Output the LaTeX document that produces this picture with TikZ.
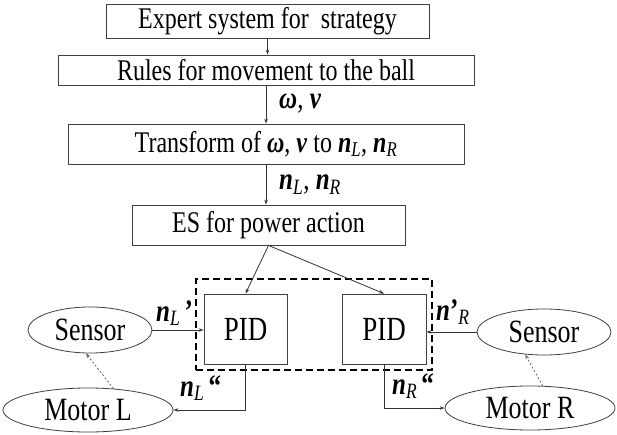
\documentclass[tikz,border=0pt]{standalone}
\usepackage{fontspec}
\usepackage{graphicx}
\setmainfont{Liberation Serif}
\usetikzlibrary{shapes.geometric,arrows.meta}
\newcommand\vtall[1]{\scalebox{1}[1.25]{#1}}
\begin{document}
\begin{tikzpicture}[x=1pt,y=-1pt,
  box/.style={draw=black!75,line width=0.8pt,inner sep=0pt,anchor=center,font=\fontsize{24}{28}\selectfont},
  pid/.style={draw=black!75,line width=0.8pt,inner sep=0pt,anchor=center,minimum width=83pt,minimum height=70pt,font=\fontsize{27}{30}\selectfont},
  ell/.style={ellipse,draw=black!75,line width=0.8pt,inner sep=0pt,anchor=center,font=\fontsize{26}{30}\selectfont},
  arr/.style={draw=black!80,line width=0.8pt,-{Stealth[length=5pt,width=3.5pt]}},
  dots/.style={draw=black!60,line width=0.8pt,dash pattern=on 2pt off 2pt,-{Stealth[length=5pt,width=3.5pt]}},
  lab/.style={anchor=west,inner sep=0pt,font=\fontsize{25}{28}\selectfont}
]
\useasboundingbox (0,0) rectangle (617,435);
\node[box,minimum width=323pt,minimum height=34pt] (b1) at (267.5,21) {\vtall{Expert system for\ \ strategy}};
\node[box,minimum width=416pt,minimum height=30pt] (b2) at (266,70) {\vtall{Rules for movement to the ball}};
\node[box,minimum width=396pt,minimum height=40pt] (b3) at (266,144) {\vtall{Transform of \textbf{\textit{ω}}, \textbf{\textit{v}} to \textbf{\textit{n}}\textsubscript{\textit{L}}, \textbf{\textit{n}}\textsubscript{\textit{R}}}};
\node[box,minimum width=273pt,minimum height=40pt] (b4) at (268.5,225) {\vtall{ES for power action}};
\node[draw=black,line width=1.8pt,dash pattern=on 7pt off 4pt,minimum width=236pt,minimum height=91pt,inner sep=0pt] (grp) at (314,324.5) {};
\node[pid] (pidL) at (245.5,329) {\vtall{PID}};
\node[pid,minimum width=84pt] (pidR) at (384,329) {\vtall{PID}};
\node[ell,minimum width=124pt,minimum height=46pt] (sensL) at (90,330) {\vtall{Sensor}};
\node[ell,minimum width=170pt,minimum height=44pt] (motL) at (88,410) {\vtall{Motor L}};
\node[ell,minimum width=134pt,minimum height=46pt] (sensR) at (544,332) {\vtall{Sensor}};
\node[ell,minimum width=170pt,minimum height=44pt] (motR) at (530,408) {\vtall{Motor R}};
\node[lab] (lw) at (279,104) {\vtall{\textbf{\textit{ω}}, \textbf{\textit{v}}}};
\node[lab] (ln) at (279,185) {\vtall{\textbf{\textit{n}}\textsubscript{\textit{L}}, \textbf{\textit{n}}\textsubscript{\textit{R}}}};
\node[lab] (lnl) at (156,313) {\vtall{\textbf{\textit{n}}\textsubscript{\textit{L}}\,\textbf{’}}};
\node[lab] (lnr) at (436,312) {\vtall{\textbf{\textit{n}}\textbf{’}\textsubscript{\textit{R}}}};
\node[lab] (lnl2) at (180,388) {\vtall{\textbf{\textit{n}}\textsubscript{\textit{L}}\,\textbf{“}}};
\node[lab] (lnr2) at (392,386) {\vtall{\textbf{\textit{n}}\textsubscript{\textit{R}}\,\textbf{“}}};
\draw[arr] (b1.south) -- (b1.south |- b2.north);
\draw[arr] (b2.south) -- (b3.north);
\draw[arr] (b3.south) -- (b3.south |- b4.north);
\draw[arr] (b4.south) -- (pidL.north);
\draw[arr] (b4.south) -- (pidR.north);
\draw[arr] (sensL.east) -- (sensL.east -| pidL.west);
\draw[arr] (sensR.west) -- (sensR.west -| pidR.east);
\draw[arr] (pidL.south) |- (motL.east);
\draw[arr] (pidR.south) |- (motR.west);
\draw[dots] (motL.40) -- (sensL.-100);
\draw[dots] (motR.60) -- (sensR.-130);
\end{tikzpicture}
\end{document}
